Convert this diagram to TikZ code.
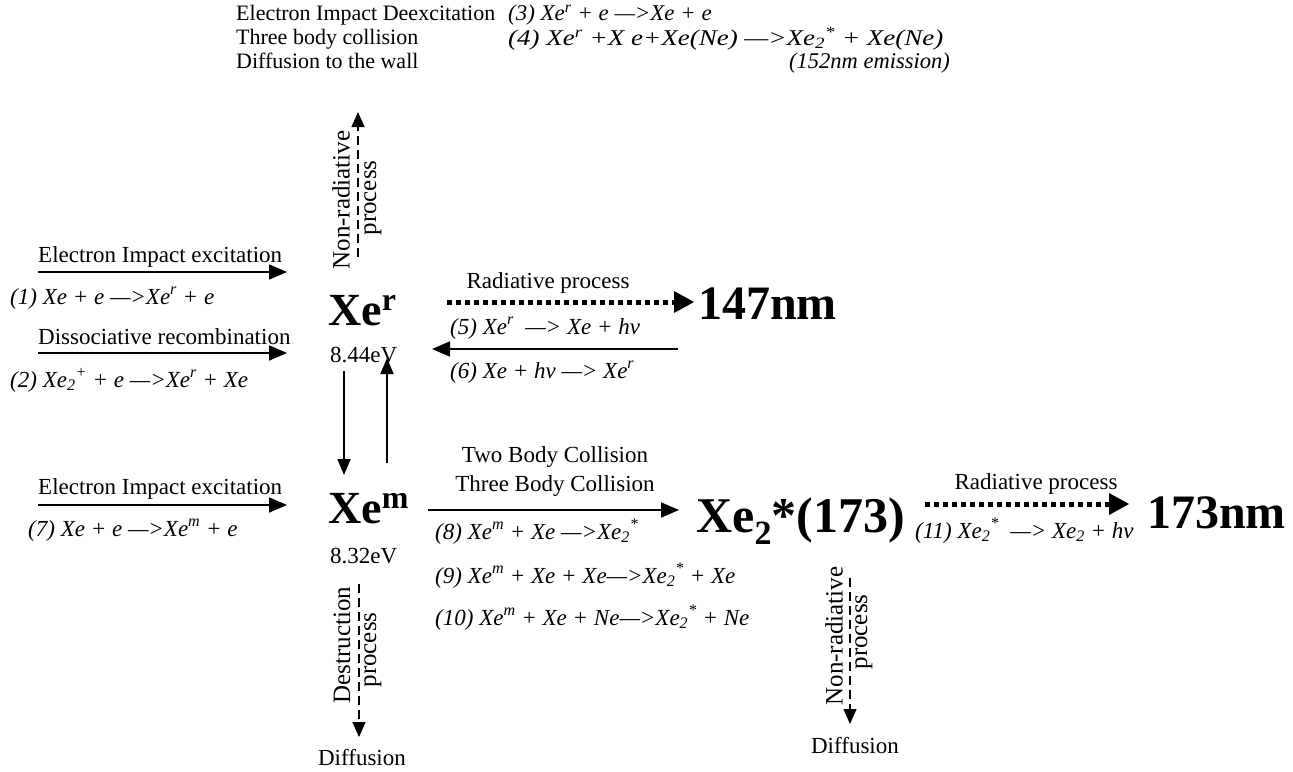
\documentclass[tikz,border=0pt]{standalone}
\usepackage{fontspec}
\setmainfont{Liberation Serif}
\usetikzlibrary{arrows.meta}
\newcommand\bigsup[1]{\raisebox{15pt}{\fontsize{32}{36}\selectfont #1}}
\begin{document}
\begin{tikzpicture}[x=1pt,y=-1pt,
  txt/.style={font=\fontsize{23}{27}\selectfont, inner sep=0pt},
  toptxt/.style={font=\fontsize{22}{26}\selectfont, inner sep=0pt},
  eq/.style={font=\fontsize{23}{27}\selectfont\itshape, inner sep=0pt},
  topeq/.style={font=\fontsize{22.5}{26}\selectfont\itshape, inner sep=0pt},
  big/.style={font=\fontsize{46}{52}\selectfont\bfseries, inner sep=0pt},
  bigger/.style={font=\fontsize{48}{54}\selectfont\bfseries, inner sep=0pt},
  rot/.style={font=\fontsize{25}{29}\selectfont, inner sep=0pt, rotate=90},
  arr/.style={line width=1.8pt, -{Triangle[length=18pt,width=15pt]}},
  varr/.style={line width=1.8pt, -{Triangle[length=16pt,width=13pt]}},
  darr/.style={line width=1.5pt, dash pattern=on 9pt off 5pt, -{Triangle[length=15pt,width=13pt]}},
  dotarr/.style={line width=5pt, dash pattern=on 5pt off 4pt, -{Triangle[length=20pt,width=22pt,line width=0pt]}}
]
\useasboundingbox (0,0) rectangle (1293,771);

% top block
\node[toptxt, anchor=base west] (t1) at (236,20) {Electron Impact Deexcitation};
\node[toptxt, anchor=base west] (t2) at (236,44) {Three body collision};
\node[toptxt, anchor=base west] (t3) at (236,68) {Diffusion to the wall};
\node[topeq, anchor=base west] (e3) at (508,20) {\scalebox{1.02}[1]{(3) Xe\textsuperscript{r} + e —>Xe + e}};
\node[topeq, anchor=base west] (e4) at (508,45) {\scalebox{1.2}[1]{(4) Xe\textsuperscript{r} +X e+Xe(Ne) —>Xe\textsubscript{2}\textsuperscript{*} + Xe(Ne)}};
\node[topeq, anchor=base east] (e152) at (950,68) {(152nm emission)};

% main species
\node[big, anchor=base west] (xer) at (328,325) {Xe\bigsup{r}};
\node[txt, anchor=base west] (xerE) at (330,362) {8.44eV};
\node[big, anchor=base west] (xem) at (328,523) {Xe\bigsup{m}};
\node[txt, anchor=base west] (xemE) at (330,563) {8.32eV};
\node[font=\fontsize{50}{56}\selectfont\bfseries, inner sep=0pt, anchor=base west] (xe2) at (696,532) {Xe\raisebox{-12pt}{\fontsize{34}{38}\selectfont 2}*(173)};
\node[bigger, anchor=base west] (n147) at (698,319) {147nm};
\node[bigger, anchor=base west] (n173) at (1147,528) {173nm};

% non-radiative up from Xe^r
\coordinate (nrA) at (358,257);
\coordinate (nrB) at (358,112);
\draw[darr] (nrA) -- (nrB);
\node[rot] (nrl1) at (341,200) {Non-radiative};
\node[rot] (nrl2) at (373,198) {process};

% left excitation arrows
\node[txt, anchor=base west] (l1) at (38,262) {Electron Impact excitation};
\coordinate (a1s) at (38,272); \coordinate (a1e) at (287,272);
\draw[arr] (a1s) -- (a1e);
\node[eq, anchor=base west] (eq1) at (10,304) {(1) Xe + e —>Xe\textsuperscript{r} + e};
\node[txt, anchor=base west] (l2) at (38,344) {Dissociative recombination};
\coordinate (a2s) at (38,353); \coordinate (a2e) at (287,353);
\draw[arr] (a2s) -- (a2e);
\node[eq, anchor=base west] (eq2) at (10,387) {(2) Xe\textsubscript{2}\textsuperscript{+} + e —>Xe\textsuperscript{r} + Xe};
\node[txt, anchor=base west] (l3) at (38,494) {Electron Impact excitation};
\coordinate (a3s) at (38,505); \coordinate (a3e) at (287,505);
\draw[arr] (a3s) -- (a3e);
\node[eq, anchor=base west] (eq7) at (28,536) {(7) Xe + e —>Xe\textsuperscript{m} + e};

% Xe^r <-> Xe^m
\coordinate (d1) at (344,371); \coordinate (d2) at (344,475);
\draw[varr] (d1) -- (d2);
\coordinate (u1) at (387,463); \coordinate (u2) at (387,358);
\draw[varr] (u1) -- (u2);

% radiative 147
\node[txt] (rp1) at (548,283) {Radiative process};
\coordinate (r1s) at (447,302); \coordinate (r1e) at (694,302);
\draw[dotarr] (r1s) -- (r1e);
\node[eq, anchor=base west] (eq5) at (450,334) {(5) Xe\textsuperscript{r} \ —> Xe + hv};
\coordinate (b1s) at (678,349); \coordinate (b1e) at (432,349);
\draw[arr] (b1s) -- (b1e);
\node[eq, anchor=base west] (eq6) at (450,378) {(6) Xe + hv —> Xe\textsuperscript{r}};

% collisions
\node[txt] (c1) at (555,457) {Two Body Collision};
\node[txt] (c2) at (555,486) {Three Body Collision};
\coordinate (c1s) at (428,510); \coordinate (c1e) at (679,510);
\draw[arr] (c1s) -- (c1e);
\node[eq, anchor=base west] (eq8) at (435,539) {(8) Xe\textsuperscript{m} + Xe —>Xe\textsubscript{2}\textsuperscript{*}};
\node[eq, anchor=base west] (eq9) at (435,583) {(9) Xe\textsuperscript{m} + Xe + Xe—>Xe\textsubscript{2}\textsuperscript{*} + Xe};
\node[eq, anchor=base west] (eq10) at (435,625) {(10) Xe\textsuperscript{m} + Xe + Ne—>Xe\textsubscript{2}\textsuperscript{*} + Ne};

% radiative 173
\node[txt] (rp2) at (1036,484) {Radiative process};
\coordinate (r2s) at (925,504); \coordinate (r2e) at (1129,504);
\draw[dotarr] (r2s) -- (r2e);
\node[eq, anchor=base west] (eq11) at (915,538) {(11) Xe\textsubscript{2}\textsuperscript{*} \ —> Xe\textsubscript{2} + hv};

% destruction process
\coordinate (dsA) at (359,584); \coordinate (dsB) at (359,737);
\draw[darr] (dsA) -- (dsB);
\node[rot] (dl1) at (342,645) {Destruction};
\node[rot] (dl2) at (373,650) {process};
\node[txt] (dif1) at (362,758) {Diffusion};

% non-radiative down from Xe2*
\coordinate (ndA) at (850,578); \coordinate (ndB) at (850,724);
\draw[darr] (ndA) -- (ndB);
\node[rot] (ndl1) at (834,636) {Non-radiative};
\node[rot] (ndl2) at (864,632) {process};
\node[txt] (dif2) at (855,746) {Diffusion};
\end{tikzpicture}
\end{document}
